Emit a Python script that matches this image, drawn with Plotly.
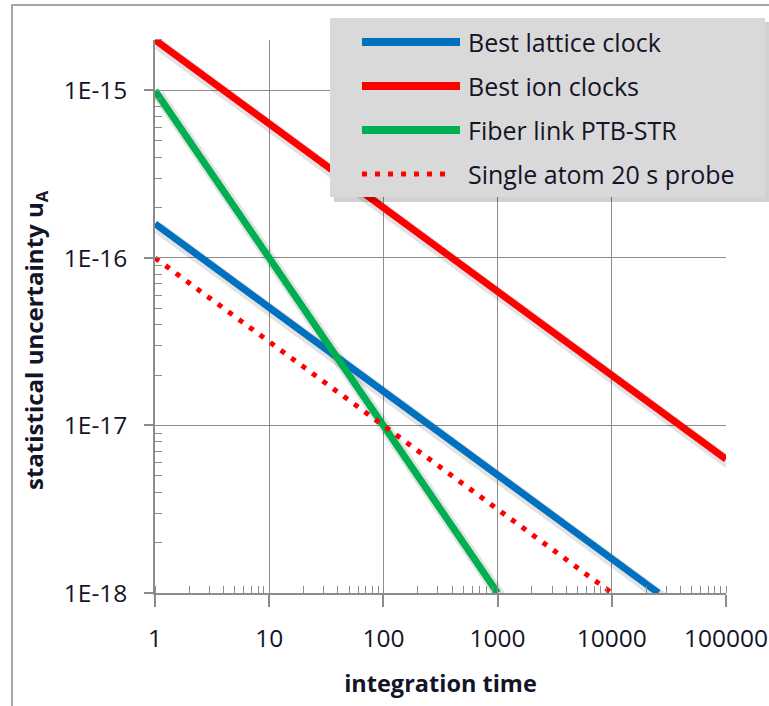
import plotly.graph_objects as go

# ---- data ----
series_names = ["Best lattice clock", "Best ion clocks", "Fiber link PTB-STR", "Single atom 20 s probe"]
lattice_t = [1, 25600]
lattice_u = [1.6e-16, 1e-18]
ion_t = [1, 100000]
ion_u = [2e-15, 6.3e-18]
fiber_t = [1, 1000]
fiber_u = [1e-15, 1e-18]
single_t = [1, 10000]
single_u = [1e-16, 1e-18]

x_tick_vals = [1, 10, 100, 1000, 10000, 100000]
x_tick_text = ["1", "10", "100", "1000", "10000", "100000"]
y_tick_vals = [1e-18, 1e-17, 1e-16, 1e-15]
y_tick_text = ["1E-18", "1E-17", "1E-16", "1E-15"]
x_title = "integration time"
y_title = "statistical uncertainty u<sub>A</sub>"

colors = ["#0070c0", "#ff0000", "#00b050", "#ff0000"]
FONT = "Open Sans"
TXT = "#141428"
GRID = "#8c8c8c"

# plot area in pixels
L, R, T, B = 155, 726, 40, 593
W, H = 769, 706


def px2x(px):
    return (px - L) / (R - L)


def py2y(py):
    return (B - py) / (B - T)


fig = go.Figure()
data = [(lattice_t, lattice_u), (ion_t, ion_u), (fiber_t, fiber_u), (single_t, single_u)]

# soft shadows (Excel style) drawn under the lines
for i, (t, u) in enumerate(data):
    if i == 3:
        continue
    fig.add_trace(go.Scatter(
        x=[v * 10 ** (3 / 114) for v in t], y=[v / 10 ** (4 / 166) for v in u],
        mode="lines", line=dict(color="rgba(0,0,0,0.11)", width=12),
        showlegend=False, hoverinfo="skip"))

for i, (t, u) in enumerate(data):
    if i == 3:
        line = dict(color=colors[i], width=5, dash="5px,8px")
    else:
        line = dict(color=colors[i], width=7)
    fig.add_trace(go.Scatter(x=t, y=u, mode="lines", name=series_names[i],
                             line=line, showlegend=False))

# outer chart frame
shapes = [dict(type="rect", xref="paper", yref="paper",
               x0=px2x(12), x1=px2x(790), y0=py2y(5), y1=py2y(720),
               line=dict(color="#a6a6a6", width=2), fillcolor="rgba(0,0,0,0)", layer="below")]

# legend box with shadow
shapes.append(dict(type="rect", xref="paper", yref="paper",
                   x0=px2x(334), x1=px2x(770), y0=py2y(22), y1=py2y(202),
                   line=dict(width=0), fillcolor="rgba(0,0,0,0.18)"))
shapes.append(dict(type="rect", xref="paper", yref="paper",
                   x0=px2x(330), x1=px2x(765), y0=py2y(18), y1=py2y(197),
                   line=dict(width=0), fillcolor="#d9d9d9"))

rows = [42, 86, 130, 174]
annotations = []
for i, ry in enumerate(rows):
    if i == 3:
        ln = dict(color=colors[i], width=5, dash="5px,8px")
        x1 = 452
    else:
        ln = dict(color=colors[i], width=8)
        x1 = 460
    shapes.append(dict(type="line", xref="paper", yref="paper",
                       x0=px2x(362), x1=px2x(x1), y0=py2y(ry), y1=py2y(ry), line=ln))
    annotations.append(dict(xref="paper", yref="paper", x=px2x(466), y=py2y(ry),
                            xanchor="left", yanchor="middle", showarrow=False,
                            text=series_names[i], font=dict(family=FONT, size=25, color=TXT)))

# y axis title (placed off-centre like the reference)
annotations.append(dict(xref="paper", yref="paper", x=px2x(35), y=py2y(340),
                        xanchor="center", yanchor="middle", showarrow=False, textangle=-90,
                        text="<b>" + y_title + "</b>",
                        font=dict(family=FONT, size=24, color=TXT)))

fig.update_layout(
    width=W, height=H,
    margin=dict(l=L, r=W - R, t=T, b=H - B),
    paper_bgcolor="white", plot_bgcolor="white",
    showlegend=False,
    shapes=shapes, annotations=annotations,
    font=dict(family=FONT, size=18, color=TXT),
)

fig.update_xaxes(
    type="log", range=[0, 5], automargin=False,
    tickvals=x_tick_vals, ticktext=x_tick_text,
    ticks="outside", ticklen=12, tickwidth=1.5, tickcolor=GRID,
    showline=True, linecolor=GRID, linewidth=1.5,
    showgrid=True, gridcolor=GRID, gridwidth=1.3,
    zeroline=False, ticklabelstandoff=11,
    tickfont=dict(family=FONT, size=24.5, color=TXT),
    minor=dict(ticks="inside", ticklen=7, tickwidth=1.3, tickcolor=GRID, dtick="D1", showgrid=False),
    title=dict(text="<b>" + x_title + "</b>", font=dict(family=FONT, size=23.5, color=TXT), standoff=22),
)
fig.update_yaxes(
    type="log", range=[-18, -14.699], automargin=False,
    tickvals=y_tick_vals, ticktext=y_tick_text,
    ticks="outside", ticklen=9, tickwidth=1.5, tickcolor=GRID,
    showline=True, linecolor=GRID, linewidth=1.5,
    showgrid=True, gridcolor=GRID, gridwidth=1.3,
    zeroline=False, ticklabelstandoff=12,
    tickfont=dict(family=FONT, size=24.5, color=TXT),
    minor=dict(ticks="inside", ticklen=7, tickwidth=1.3, tickcolor=GRID, dtick="D1", showgrid=False),
)

fig.write_html("out.html", config={"displayModeBar": False},
               post_script="document.body.style.margin='0px';")
